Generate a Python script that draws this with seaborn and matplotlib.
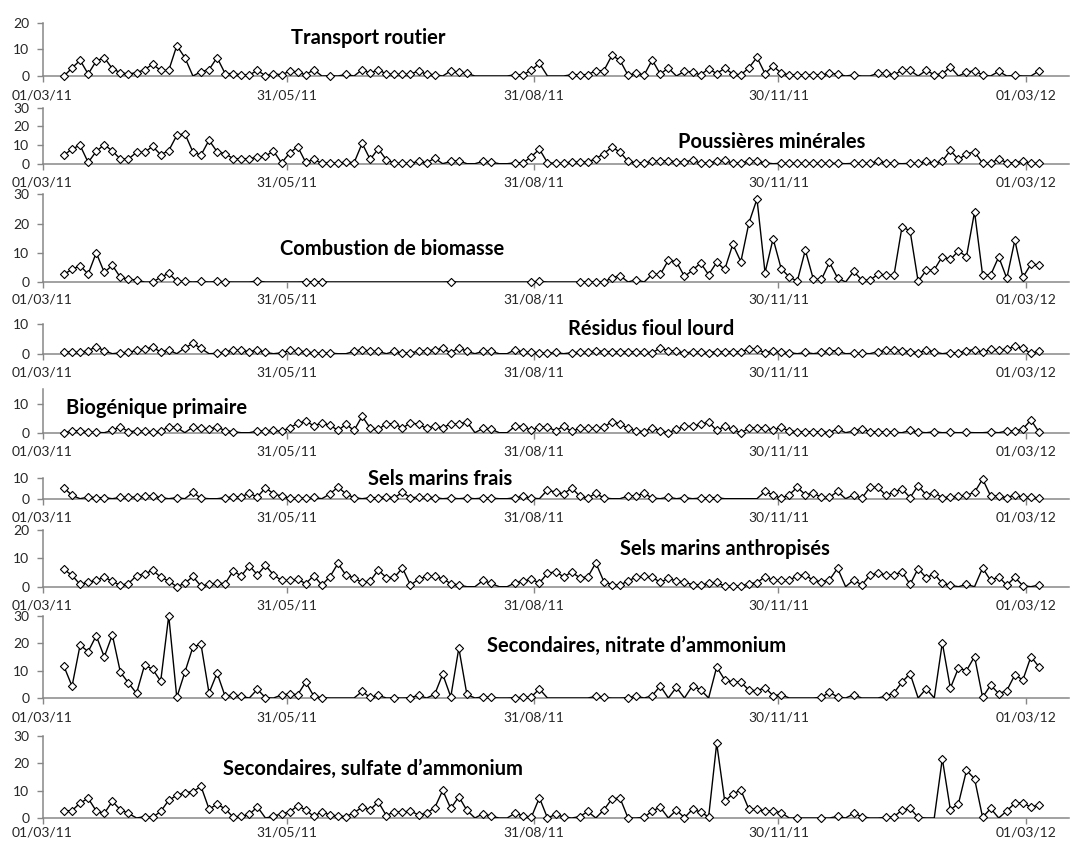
import numpy as np
import pandas as pd
import matplotlib
matplotlib.use("Agg")
import matplotlib.pyplot as plt
import matplotlib.dates as mdates
import seaborn as sns

sns.set_style("white")
plt.rcParams["font.family"] = ["Lato", "DejaVu Sans"]

# Sampling schedule: one filter every third day
first_sample = "2011-03-09"
n_samples = 122
sample_dates = pd.date_range(first_sample, periods=n_samples, freq="3D")

tick_dates = ["2011-03-01", "2011-05-31", "2011-08-31", "2011-11-30", "2012-03-01"]
tick_labels = ["01/03/11", "31/05/11", "31/08/11", "30/11/11", "01/03/12"]

N = None  # no sample for that day

transport_routier = [
    0, 3, 5.9, 0.75, 5.6, 6.9, 2.75, 1.25, 0.75, 1.25,
    2.4, 4.4, 2.1, 2.1, 11.4, 6.9, N, 1.6, 2.4, 6.9,
    0.9, 0.9, 0.4, 0.4, 2.1, 0.1, 0.75, 0.5, 1.75, 1.5,
    0.4, 2.4, N, 0.1, N, 0.6, N, 2.4, 1.0, 2.4,
    0.75, 0.6, 0.6, 0.6, 2.0, 0.6, 0.5, N, 1.9, 1.4,
    1.0, N, N, N, N, N, 0.5, 0.5, 2.25, 4.75,
    N, N, N, 0.5, 0.5, 0.5, 2.0, 2.0, 7.75, 5.9,
    0.25, 1.1, 0.4, 6.0, 0.75, 3.0, N, 1.75, 1.5, 0.4,
    2.75, 0.9, 2.9, 0.75, 0.4, 3.1, 7.0, 0.9, 3.75, 1.1,
    0.4, 0.4, 0.4, 0.4, 0.4, 1.0, 0.75, N, 0.4, N,
    N, 1.0, 1.0, 0.5, 2.1, 2.1, N, 2.1, 0.5, 0.75,
    3.4, N, 1.4, 2.0, 0.4, N, 1.75, N, 0.25, N,
    N, 1.9,
]

poussieres_minerales = [
    4.5, 8.0, 9.8, 0.7, 6.6, 10.2, 6.8, 2.5, 2.5, 6.1,
    6.1, 9.3, 4.8, 7.0, 15.2, 16.1, 6.3, 4.6, 12.6, 6.4,
    5.4, 2.7, 2.7, 2.7, 3.4, 4.1, 6.8, 0.4, 5.7, 9.1,
    0.7, 2.3, 0.2, 0.5, 0.2, 0.9, 0.5, 10.9, 2.3, 8.0,
    2.1, 0.2, 0.2, 0.2, 1.25, 0.5, 2.9, N, 1.25, 1.6,
    N, N, 1.25, 0.9, N, N, 0.5, 0.5, 3.75, 7.8,
    0.5, 0.2, 0.2, 0.9, 0.9, 0.9, 2.7, 5.4, 8.9, 6.25,
    1.25, 0.5, 0.5, 1.25, 1.6, 1.6, 0.9, 0.9, 2.0, 0.2,
    0.5, 1.25, 1.8, 0.2, 0.5, 1.25, 1.25, 0.5, N, 0.2,
    0.2, 0.2, 0.2, 0.2, 0.2, 0.2, 0.2, N, 0.2, 0.2,
    0.2, 1.25, 0.5, 0.2, N, 0.2, 0.2, 1.25, 0.2, 1.4,
    7.1, 2.3, 5.2, 6.4, 0.2, 0.2, 2.7, 0.5, 0.5, 1.4,
    0.2, 0.2,
]

combustion_biomasse = [
    2.7, 4.3, 5.6, 2.7, 10.0, 3.3, 5.7, 1.6, 0.9, 0.7,
    N, 0.0, 1.6, 3.0, 0.3, 0.2, N, 0.2, N, 0.2,
    0.05, N, N, N, 0.35, N, N, N, N, N,
    0.1, 0.1, 0.1, N, N, N, N, N, N, N,
    N, N, N, N, N, N, N, N, 0.1, N,
    N, N, N, N, N, N, N, N, 0.0, 0.2,
    N, N, N, N, 0.0, 0.0, 0.0, 0.0, 1.4, 2.2,
    N, 0.8, N, 2.7, 2.6, 7.4, 6.96, 1.9, 4.0, 6.5,
    2.5, 6.7, 4.3, 12.9, 6.96, 20.2, 28.4, 3.2, 14.8, 4.6,
    1.7, 0.3, 10.9, 0.9, 0.9, 6.7, 1.4, N, 3.6, 0.7,
    0.6, 2.6, 2.4, 2.3, 18.9, 17.5, 0.2, 4.0, 4.2, 8.7,
    7.7, 10.6, 8.7, 24.0, 2.4, 2.4, 8.6, 1.25, 14.3, 1.6,
    6.1, 5.8,
]

residus_fioul_lourd = [
    0.7, 0.45, 0.45, 1.0, 2.4, 1.0, N, 0.3, 0.45, 1.1,
    1.6, 2.2, 0.6, 1.25, N, 2.0, 3.5, 1.8, N, 0.1,
    0.6, 1.25, 1.1, 0.7, 1.25, 0.45, N, 0.3, 1.1, 0.8,
    0.7, 0.2, 0.2, 0.2, N, N, 0.8, 1.4, 0.8, 0.8,
    N, 0.8, 0.2, 0.3, 0.8, 1.0, 1.25, 1.8, 0.3, 2.0,
    0.8, N, 0.8, 0.8, N, N, 1.4, 0.45, 0.45, 0.35,
    0.1, 0.45, N, 0.35, 0.45, 0.45, 1.0, 0.7, 0.7, 0.7,
    0.7, 0.7, 0.45, 0.35, 1.9, 1.0, 1.0, 0.1, 0.7, 0.45,
    0.35, 0.7, 0.7, 0.7, 0.7, 1.5, 1.5, 0.35, 1.0, 0.45,
    0.35, N, 0.45, N, 0.45, 1.0, 1.0, N, 0.1, 0.1,
    N, 0.7, 1.1, 1.4, 1.0, 0.7, 0.35, 1.1, 0.7, N,
    0.35, 0.35, 1.0, 1.4, 0.45, 1.5, 1.25, 1.5, 2.5, 1.8,
    0.1, 0.9,
]

biogenique_primaire = [
    0.0, 0.6, 0.7, 0.2, 0.1, N, 0.8, 2.1, 0.35, 0.6,
    0.45, 0.2, 0.45, 2.1, 1.8, N, 2.0, 1.5, 1.25, 2.0,
    0.7, 0.35, N, N, 0.6, 0.6, 0.8, 0.45, 1.7, 3.2,
    4.0, 2.4, 3.3, 2.6, 0.8, 2.9, 0.8, 5.7, 1.6, 1.15,
    3.1, 3.1, 1.6, 3.4, 2.9, 1.5, 2.4, 1.7, 3.1, 2.9,
    3.8, N, 1.5, 1.25, N, N, 2.3, 2.1, 0.8, 1.95,
    1.95, 0.7, 2.2, 0.45, 1.5, 1.5, 1.5, 1.95, 3.8, 3.1,
    1.5, 0.6, 0.35, 1.7, 0.7, 0.0, 1.15, 2.2, 2.2, 2.9,
    3.7, 0.8, 2.2, 1.15, 0.0, 1.5, 1.7, 1.7, 0.9, 1.8,
    0.6, 0.35, 0.35, 0.35, 0.35, 0.0, 1.4, N, 0.6, 1.4,
    0.35, 0.35, 0.35, 0.1, N, 0.8, 0.2, N, 0.35, N,
    0.1, N, 0.1, N, N, 0.2, N, 0.6, 0.6, 1.3,
    4.4, 0.2,
]

sels_marins_frais = [
    5.2, 1.6, N, 0.8, 0.5, 0.5, N, 0.65, 0.65, 0.8,
    1.1, 1.5, 0.5, N, 0.5, N, 3.0, 0.3, N, N,
    0.5, 0.8, 1.0, 2.6, 0.8, 5.3, 2.4, 1.3, 0.3, 0.3,
    0.3, 0.65, N, 2.3, 5.6, 2.3, 0.5, N, 0.5, 0.5,
    0.8, 0.5, 3.0, 0.5, 0.65, 0.65, 0.5, N, 0.3, N,
    0.3, N, 0.3, 0.3, N, N, 0.5, 1.1, 0.3, N,
    4.2, 3.2, 2.3, 5.2, 1.3, 0.3, 2.6, 0.3, N, N,
    1.3, 1.3, 2.6, 0.3, N, 0.8, N, 0.5, N, 0.3,
    0.5, 0.5, N, N, N, N, N, 3.5, 1.8, 0.15,
    1.9, 5.5, 1.9, 2.7, 0.65, 0.65, 3.5, N, 1.9, 0.15,
    5.5, 5.5, 1.6, 3.1, 4.8, 0.5, 6.3, 1.8, 2.9, 0.5,
    0.8, 1.1, 1.6, 3.1, 9.5, 1.3, 1.3, 0.5, 1.8, 0.65,
    0.65, 0.3,
]

sels_marins_anthropises = [
    6.1, 4.0, 0.8, 1.6, 2.2, 3.4, 1.9, 0.5, 1.1, 3.9,
    4.5, 5.8, 3.4, 2.0, 0.0, 1.2, 3.6, 0.2, 0.9, 1.2,
    1.1, 5.6, 3.8, 7.4, 4.2, 7.5, 4.2, 2.2, 2.2, 2.6,
    1.1, 3.9, 0.6, 3.5, 8.2, 4.0, 3.1, 1.5, 2.0, 5.9,
    3.2, 3.3, 6.6, 0.6, 2.6, 3.6, 3.6, 2.8, 1.1, 0.6,
    N, N, 2.2, 1.2, N, N, 1.4, 2.0, 2.6, 1.35,
    4.7, 5.3, 3.5, 5.1, 3.2, 3.4, 8.4, 1.8, 0.7, 0.5,
    2.1, 3.3, 3.6, 3.3, 1.6, 2.9, 2.0, 1.6, 0.7, 0.6,
    1.2, 1.5, 0.2, 0.2, 0.2, 1.1, 1.4, 3.5, 2.2, 2.2,
    2.2, 3.9, 4.1, 2.2, 1.8, 2.4, 6.5, N, 2.4, 0.6,
    4.0, 4.9, 4.1, 4.1, 5.3, 0.8, 6.4, 3.2, 4.5, 1.2,
    0.5, N, 0.8, N, 6.6, 2.2, 3.5, 0.5, 3.3, 0.35,
    N, 0.6,
]

nitrate_ammonium = [
    11.5, 4.3, 19.3, 16.9, 22.7, 15.0, 23.0, 9.4, 5.5, 1.7,
    12.0, 10.5, 6.1, 30.0, 0.2, 9.4, 18.6, 19.6, 1.8, 9.1,
    0.6, 1.1, 0.6, N, 3.2, 0.1, N, 1.1, 1.5, 1.2,
    5.8, 0.7, 0.1, N, N, N, N, 2.4, 0.2, 1.0,
    N, 0.0, N, 0.1, 1.0, N, 1.3, 8.7, 0.4, 18.2,
    1.3, N, 0.4, 0.2, N, N, 0.1, 0.2, 0.4, 3.3,
    N, N, N, N, N, N, 0.6, 0.2, N, N,
    0.1, 0.7, N, 0.85, 4.4, N, 3.9, N, 4.5, 3.0,
    N, 11.3, 6.6, 5.8, 5.8, 2.9, 2.6, 3.8, 0.85, 1.2,
    N, N, N, N, 0.25, 2.1, 0.4, N, 1.2, N,
    N, N, 0.7, 1.9, 5.8, 8.9, N, 3.4, N, 20.1,
    3.6, 10.9, 10.0, 15.1, 0.25, 4.7, 1.6, 2.7, 8.4, 6.6,
    15.1, 11.3,
]

sulfate_ammonium = [
    2.6, 2.7, 5.5, 7.2, 2.6, 1.7, 6.1, 3.0, 1.7, N,
    0.5, 0.25, 2.4, 6.5, 8.3, 9.3, 9.6, 11.6, 3.3, 5.0,
    3.4, 0.25, 0.6, 1.3, 4.1, N, 0.6, 1.6, 2.2, 4.5,
    2.9, 0.6, 2.3, 1.1, 0.7, 0.5, 2.0, 3.9, 3.0, 5.9,
    0.9, 2.3, 2.1, 2.6, 1.1, 1.8, 3.7, 10.1, 3.5, 7.8,
    2.8, N, 1.6, 0.7, N, N, 1.8, 0.7, 0.3, 7.4,
    0.0, 1.3, 0.4, N, 0.5, 2.4, N, 3.0, 7.0, 7.3,
    0.0, N, 0.25, 2.6, 3.9, N, 2.9, 0.1, 3.2, 2.2,
    0.4, 27.3, 6.1, 8.8, 10.2, 3.2, 3.2, 2.6, 2.6, 2.0,
    N, 0.0, N, N, 0.0, N, 0.6, N, 1.8, 0.5,
    N, N, 0.25, 0.5, 2.9, 3.5, 0.25, N, N, 21.7,
    3.05, 5.2, 17.4, 14.4, 0.25, 3.5, N, 2.6, 5.4, 5.6,
    3.9, 4.9,
]

factor_names = [
    "Transport routier",
    "Poussières minérales",
    "Combustion de biomasse",
    "Résidus fioul lourd",
    "Biogénique primaire",
    "Sels marins frais",
    "Sels marins anthropisés",
    "Secondaires, nitrate d’ammonium",
    "Secondaires, sulfate d’ammonium",
]
factor_values = [
    transport_routier, poussieres_minerales, combustion_biomasse,
    residus_fioul_lourd, biogenique_primaire, sels_marins_frais,
    sels_marins_anthropises, nitrate_ammonium, sulfate_ammonium,
]
y_max = [20, 30, 30, 10, 15, 10, 20, 30, 30]
y_ticks = [[0, 10, 20], [0, 10, 20, 30], [0, 10, 20, 30], [0, 10], [0, 10],
           [0, 10], [0, 10, 20], [0, 10, 20, 30], [0, 10, 20, 30]]

# Layout in pixels: (y of zero line, y of top of axis), title anchor (left x, centre y),
# and distance from axis line to the date labels
W, H = 1071, 843
PX_PER_DAY = 2.686
X_LEFT = 42.5
AXIS_DAYS = 382
X_RIGHT = X_LEFT + AXIS_DAYS * PX_PER_DAY
panel_rows = [(76, 22.7), (163.7, 107.7), (282, 194.3), (353.7, 324.3), (432.7, 389.3),
              (498.7, 478), (586.7, 530), (698, 615.7), (818, 736)]
title_pos = [(291, 38), (678, 142), (280, 249), (568, 329), (66, 408),
             (368, 479), (620, 549), (487, 646), (223, 769)]
label_pad = [5.5, 5.5, 4.0, 5.5, 5.5, 5.5, 5.5, 5.5, 2.0]

AXIS_GREY = "#878787"
x_start = mdates.date2num(pd.Timestamp("2011-03-01"))
x_end = x_start + AXIS_DAYS
tick_nums = [mdates.date2num(pd.Timestamp(d)) for d in tick_dates]

fig = plt.figure(figsize=(W / 100, H / 100), dpi=100)
fig.patch.set_facecolor("white")

for i, name in enumerate(factor_names):
    zero_px, top_px = panel_rows[i]
    ax = fig.add_axes([X_LEFT / W, 1 - zero_px / H,
                       (X_RIGHT - X_LEFT) / W, (zero_px - top_px) / H])
    values = np.array(factor_values[i], dtype=float)
    df = pd.DataFrame({"date": mdates.date2num(sample_dates), "value": values})
    # days without a sample are drawn at zero on the line, without a marker
    line_df = df.assign(value=df["value"].fillna(0.0))

    sns.lineplot(data=line_df, x="date", y="value", ax=ax, color="black",
                 linewidth=1.0, estimator=None, zorder=3)
    sns.scatterplot(data=df.dropna(), x="date", y="value", ax=ax, marker="D",
                    s=17, color="white", edgecolor="black", linewidth=0.8,
                    zorder=4, clip_on=False)

    ax.set_xlim(x_start, x_end)
    ax.set_ylim(0, y_max[i])
    ax.set_yticks(y_ticks[i])
    ax.set_yticklabels([str(t) for t in y_ticks[i]])
    ax.set_xticks(tick_nums)
    ax.set_xticklabels(tick_labels)
    ax.set_xlabel("")
    ax.set_ylabel("")
    for side in ("top", "right"):
        ax.spines[side].set_visible(False)
    for side in ("left", "bottom"):
        ax.spines[side].set_color(AXIS_GREY)
        ax.spines[side].set_linewidth(1.1)
        ax.spines[side].set_zorder(2)
    ax.tick_params(axis="y", direction="out", length=4, width=1, color=AXIS_GREY,
                   labelsize=10, pad=5.5, left=True)
    ax.tick_params(axis="x", direction="out", length=4, width=1, color=AXIS_GREY,
                   labelsize=10, pad=label_pad[i], bottom=True)
    ax.patch.set_alpha(0)

    tx, ty = title_pos[i]
    fig.text(tx / W, 1 - ty / H, name, ha="left", va="center",
             fontsize=14.5, fontweight="bold", color="black")

fig.savefig("out.png", dpi=100, facecolor="white")
